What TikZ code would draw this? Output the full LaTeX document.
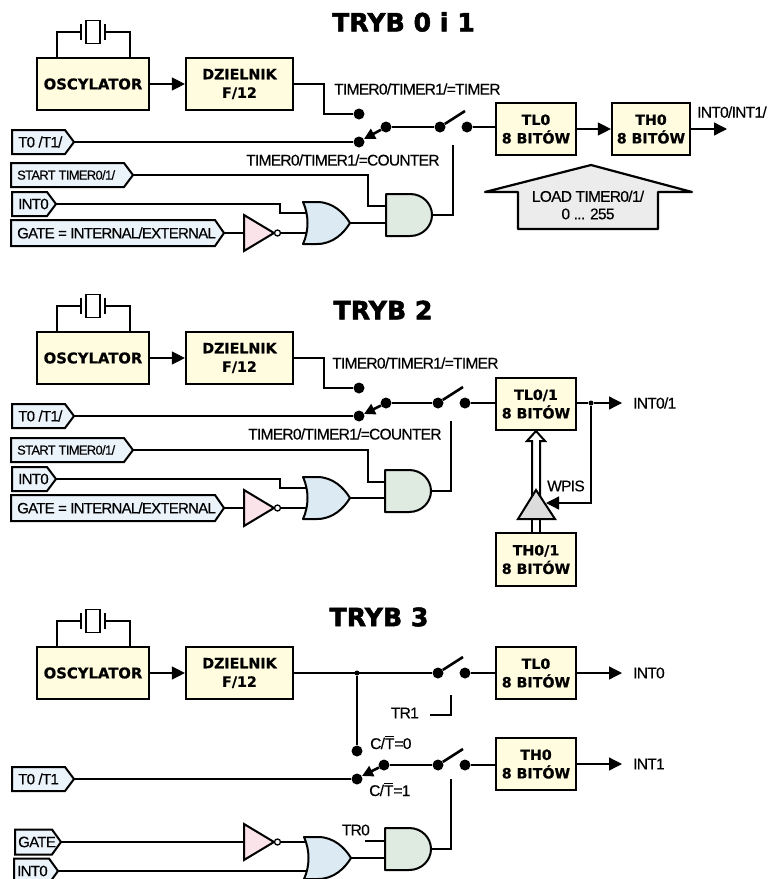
\documentclass[tikz,border=0pt]{standalone}
\usepackage{fontspec}
\usetikzlibrary{arrows.meta,calc}
\setmainfont{Liberation Sans}
\newfontfamily\lab[LetterSpace=-4.5,FakeBold=0.3]{Liberation Sans}
\newfontfamily\labs[LetterSpace=-5,FakeBold=0.3]{Liberation Sans}
\newfontfamily\hvy[FakeBold=0.6]{DejaVu Sans Bold}
\newfontfamily\hvyt[FakeBold=2]{DejaVu Sans Bold}
\definecolor{boxy}{HTML}{FFFCE0}
\definecolor{tagb}{HTML}{EBF3FB}
\definecolor{andg}{HTML}{DFEBE0}
\definecolor{org}{HTML}{DCEBF3}
\definecolor{notp}{HTML}{FBE3EA}
\definecolor{loadg}{HTML}{ECECEC}
\definecolor{bufg}{HTML}{DCDCDC}
\tikzset{
 wire/.style={line width=1.3pt,line join=miter},
 arr/.style={wire,-{Triangle[length=13pt,width=13pt]}},
 block/.style={draw,line width=2.2pt,fill=boxy,inner sep=0pt,align=center,font=\hvy\fontsize{14.2}{18.5}\selectfont},
 gateline/.style={draw,line width=2pt,line join=round},
 dot/.style={circle,fill=black,inner sep=0pt,minimum size=11pt},
 jdot/.style={circle,fill=black,inner sep=0pt,minimum size=5pt},
 bigtitle/.style={font=\hvyt\fontsize{25.2}{28}\selectfont,inner sep=0pt},
 lbl/.style={font=\lab\fontsize{15.5}{17.5}\selectfont,inner sep=0pt,align=center},
 blade/.style={line width=2.6pt},
 swarrow/.style={line width=2.6pt,-{Triangle[length=11pt,width=11pt]}},
}
% boxes and crystal of one panel: prefix, y centre
\newcommand\oscpart[2]{%
 \node[block,minimum width=112pt,minimum height=52pt,font=\hvy\fontsize{14.8}{18.5}\selectfont] (#1osc) at (93,#2) {OSCYLATOR};
 \node[block,minimum width=107pt,minimum height=52pt] (#1dz) at (239.5,#2) {DZIELNIK\\F/12};
 \draw[arr] (#1osc.east) -- (#1dz.west);
 \node[draw,line width=1.8pt,fill=white,minimum width=14pt,minimum height=23pt,inner sep=0pt] (#1xt) at (93,{#2-52}) {};
 \coordinate (#1pl) at (81,{#2-52});
 \coordinate (#1pr) at (105,{#2-52});
 \draw[line width=2.2pt] (81,{#2-60}) -- (81,{#2-44}) (105,{#2-60}) -- (105,{#2-44});
 \draw[wire] (57,{#2-26}) |- (#1pl) (130,{#2-26}) |- (#1pr);
}
% signal tag: name, x1, x2, yc, height, text
\newcommand\tagbox[6]{%
 \draw[line width=2pt,fill=tagb,line join=miter] (#2,{#4-#5/2}) -- ({#3-9},{#4-#5/2}) -- (#3,#4) -- ({#3-9},{#4+#5/2}) -- (#2,{#4+#5/2}) -- cycle;
 \node[anchor=west,inner sep=0pt] (#1) at ({#2+6},#4) {#6};
 \coordinate (#1tip) at (#3,#4);
}
\newcommand\andgate[3]{%
 \begin{scope}[shift={(#2,#3)}]
 \path[gateline,fill=andg] (0,-21) -- (24,-21) .. controls (37,-21) and (46,-11) .. (46,0) .. controls (46,11) and (37,21) .. (24,21) -- (0,21) -- cycle;
 \coordinate (#1a) at (0,-9); \coordinate (#1b) at (0,8); \coordinate (#1o) at (46,0);
 \end{scope}
}
\newcommand\orgate[3]{%
 \begin{scope}[shift={(#2,#3)}]
 \path[gateline,fill=org] (0,-21) .. controls (6,-8) and (6,8) .. (0,21) -- (14,21) .. controls (30,21) and (41,10) .. (47,0) .. controls (41,-10) and (30,-21) .. (14,-21) -- cycle;
 \coordinate (#1a) at (4,-10); \coordinate (#1b) at (4,10); \coordinate (#1o) at (47,0);
 \end{scope}
}
\newcommand\notgate[3]{%
 \begin{scope}[shift={(#2,#3)}]
 \path[gateline,fill=notp,line join=miter] (0,-18) -- (30,0) -- (0,18) -- cycle;
 \draw[line width=1.3pt,fill=white] (33.5,0) circle[radius=3pt];
 \coordinate (#1i) at (0,0); \coordinate (#1o) at (37,0);
 \end{scope}
}
\newcommand\ovT{\vbox{\hrule height 1.3pt\kern 1.2pt\hbox{T}}}
\newcommand\gatetxt{\lab\fontsize{15}{16}\selectfont}
\begin{document}
\begin{tikzpicture}[x=1pt,y=-1pt]
\useasboundingbox (0,0) rectangle (775,879);
\clip (0,0) rectangle (775,879);
\fill[white] (0,0) rectangle (775,879);

%%%%% TRYB 0 i 1
\node[bigtitle] (t1) at (403.5,22) {TRYB 0 i 1};
\oscpart{a}{84}
\node[block,minimum width=80pt,minimum height=52pt] (atl) at (536,129) {TL0\\8 BITÓW};
\node[block,minimum width=78pt,minimum height=52pt] (ath) at (651,129) {TH0\\8 BITÓW};
\draw[arr] (atl.east) -- (ath.west);
\coordinate (aout) at (727,129);
\draw[arr] (ath.east) -- (aout);
\node[lbl,anchor=south west] (aint) at (697,118) {INT0/INT1/};
\node[dot] (as1) at (359,114) {};
\node[dot] (as2) at (359,142) {};
\node[dot] (as3) at (386,127) {};
\node[dot] (as4) at (440,127) {};
\node[dot] (as5) at (467,127) {};
\coordinate (ab) at (465,111);
\draw[wire] (adz.east) -- (324,84) |- (as1);
\draw[wire] (as3) -- (as4) (as5) -- (as5 -| atl.west);
\draw[blade] (as4) -- (ab);
\draw[swarrow] (as3) -- (364,139);
\tagbox{at0}{12}{74}{142}{24}{\lab\fontsize{15}{16}\selectfont T0 /T1/}
\tagbox{ast}{11}{133}{175}{24}{\labs\fontsize{12.9}{14}\selectfont START TIMER0/1/}
\tagbox{ain}{12}{56}{204}{24}{\gatetxt INT0}
\tagbox{agt}{11}{224}{233}{26}{\labs\fontsize{15}{16}\selectfont GATE = INTERNAL/EXTERNAL}
\draw[wire] (at0tip) -- (as2);
\node[lbl,anchor=west] (atm) at (334,89) {TIMER0/TIMER1/=TIMER};
\node[lbl,anchor=west] (acn) at (246,160) {TIMER0/TIMER1/=COUNTER};
\notgate{an}{244}{233}
\orgate{ao}{303}{223}
\andgate{ag}{386}{215}
\draw[wire] (agttip) -- (ani);
\draw[wire] (ano) -- (aob);
\draw[wire] (aintip) -- (280,204) |- (aoa);
\draw[wire] (asttip) -- (368,175) |- (aga);
\draw[wire] (aoo) -- (aoo -| agb);
\draw[wire] (ago) -- (453,215) -- (453,145);
\coordinate (aldp) at (591,165);
\draw[line width=2.2pt,fill=loadg,line join=round] (aldp) -- (485,192) -- (518,192) -- (518,229) -- (658,229) -- (658,192) -- (692,192) -- cycle;
\node[lbl] (ald) at (588,205) {LOAD TIMER0/1/\\0 ... 255};

%%%%% TRYB 2
\node[bigtitle] (t2) at (383,310) {TRYB 2};
\oscpart{b}{358}
\node[block,minimum width=80pt,minimum height=52pt] (btl) at (536,404) {TL0/1\\8 BITÓW};
\node[block,minimum width=80pt,minimum height=53pt] (bth) at (536,559.5) {TH0/1\\8 BITÓW};
\node[dot] (bs1) at (359,388) {};
\node[dot] (bs2) at (359,416) {};
\node[dot] (bs3) at (386,403) {};
\node[dot] (bs4) at (438,403) {};
\node[dot] (bs5) at (465,403) {};
\coordinate (bb) at (463,387);
\draw[wire] (bdz.east) -- (324,358) |- (bs1);
\draw[wire] (bs3) -- (bs4) (bs5) -- (bs5 -| btl.west);
\draw[blade] (bs4) -- (bb);
\draw[swarrow] (bs3) -- (364,414);
\tagbox{bt0}{12}{74}{416}{24}{\lab\fontsize{15}{16}\selectfont T0 /T1/}
\tagbox{bst}{11}{133}{450}{24}{\labs\fontsize{12.9}{14}\selectfont START TIMER0/1/}
\tagbox{bin}{12}{56}{479}{24}{\gatetxt INT0}
\tagbox{bgt}{11}{224}{508}{26}{\labs\fontsize{15}{16}\selectfont GATE = INTERNAL/EXTERNAL}
\draw[wire] (bt0tip) -- (bs2);
\node[lbl,anchor=west] (btm) at (332,363) {TIMER0/TIMER1/=TIMER};
\node[lbl,anchor=west] (bcn) at (248,434) {TIMER0/TIMER1/=COUNTER};
\notgate{bn}{244}{508}
\orgate{bo}{303}{498}
\andgate{bg}{385}{491}
\draw[wire] (bgttip) -- (bni);
\draw[wire] (bno) -- (bob);
\draw[wire] (bintip) -- (280,479) |- (boa);
\draw[wire] (bsttip) -- (368,450) |- (bga);
\draw[wire] (boo) -- (boo -| bgb);
\draw[wire] (bgo) -- (451,491) -- (451,421);
% output and write path
\node[jdot] (bj) at (591,403) {};
\coordinate (bout) at (622,403);
\draw[wire] (bs5 -| btl.east) -- (bj);
\draw[arr] (bj) -- (bout);
\node[lbl,anchor=west] (bint) at (633,403) {INT0/1};
\coordinate (bw) at (546,503);
\draw[wire] (bj) -- (591,503) -- (560,503);
\draw[arr] (570,503) -- (bw);
\node[lbl,anchor=west] (bwp) at (547,486) {WPIS};
\draw[line width=2pt,fill=white,line join=miter] (532,496) -- (532,441) -- (527,441) -- (536,431) -- (545,441) -- (540,441) -- (540,496);
\draw[line width=2pt,fill=white] (532,533) -- (532,519) (540,533) -- (540,519);
\path[gateline,fill=bufg,line join=miter] (536,490) -- (555,519) -- (518,519) -- cycle;

%%%%% TRYB 3
\node[bigtitle] (t3) at (379,617) {TRYB 3};
\oscpart{c}{673}
\node[block,minimum width=80pt,minimum height=52pt] (ctl) at (536,673) {TL0\\8 BITÓW};
\node[block,minimum width=80pt,minimum height=52pt] (cth) at (536,764) {TH0\\8 BITÓW};
\node[jdot] (cj) at (357,673) {};
\node[dot] (cu1) at (438,673) {};
\node[dot] (cu2) at (465,673) {};
\coordinate (cub) at (463,657);
\draw[wire] (cdz.east) -- (cu1);
\draw[wire] (cu2) -- (cu2 -| ctl.west);
\draw[blade] (cu1) -- (cub);
\coordinate (coa) at (622,673);
\draw[arr] (ctl.east) -- (coa);
\node[lbl,anchor=west] (cia) at (633,673) {INT0};
\coordinate (cob) at (622,764);
\draw[arr] (cth.east) -- (cob);
\node[lbl,anchor=west] (cib) at (633,764) {INT1};
\node[lbl,anchor=east] (ctr1) at (419,713) {TR1};
\coordinate (ct1) at (430,715);
\draw[wire] (ct1) -- (451,715) -- (451,695);
\node[dot] (cs1) at (357,751) {};
\node[dot] (cs2) at (357,779) {};
\node[dot] (cs3) at (384,765) {};
\node[dot] (cs4) at (438,765) {};
\node[dot] (cs5) at (465,765) {};
\coordinate (csb) at (463,749);
\draw[wire] (cj) -- (cs1);
\draw[wire] (cs3) -- (cs4) (cs5) -- (cs5 -| cth.west);
\draw[blade] (cs4) -- (csb);
\draw[swarrow] (cs3) -- (362,776);
\node[lbl,anchor=base west] (cc0) at (370,749) {C/\ovT=0};
\node[lbl,anchor=base west] (cc1) at (369,796) {C/\ovT=1};
\tagbox{ct0}{12}{74}{779}{24}{\lab\fontsize{15}{16}\selectfont T0 /T1}
\tagbox{cgt}{15}{61}{842}{25}{\hspace{-3pt}\gatetxt GATE}
\tagbox{cin}{14}{58}{871}{25}{\hspace{-3pt}\gatetxt INT0}
\draw[wire] (ct0tip) -- (cs2);
\notgate{cn}{244}{842}
\orgate{co}{304}{858}
\andgate{cg}{385}{849}
\draw[wire] (cgttip) -- (cni);
\draw[wire] (cno) -- (306,842);
\draw[wire] (cintip) -- (306,871);
\draw[wire] (coo) -- (385,858);
\node[lbl,anchor=east] (ctr0) at (370,830) {TR0};
\coordinate (ct2) at (365,841);
\draw[wire] (ct2) -- (ct2 -| cga);
\draw[wire] (cgo) -- (451,849) -- (451,779);
\end{tikzpicture}
\end{document}
